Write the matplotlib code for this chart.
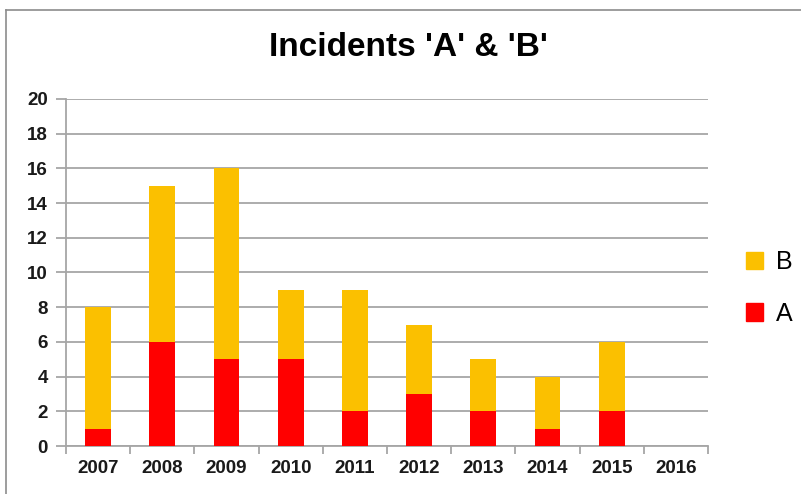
import numpy as np
import matplotlib.pyplot as plt
from matplotlib.lines import Line2D
from matplotlib.patches import Patch

years = ['2007', '2008', '2009', '2010', '2011', '2012', '2013', '2014', '2015', '2016']
incidents_a = [1, 6, 5, 5, 2, 3, 2, 1, 2, 0]
incidents_b = [7, 9, 11, 4, 7, 4, 3, 3, 4, 0]

col_a = '#FF0000'
col_b = '#FBC000'
grid_col = '#A6A6A6'

plt.rcParams['font.family'] = ['Liberation Sans', 'DejaVu Sans']

fig = plt.figure(figsize=(8.01, 4.94), dpi=100)
ax = fig.add_axes([66 / 801, 1 - 446 / 494, (708 - 66) / 801, (446 - 99) / 494])

x = np.arange(len(years))
ax.bar(x, incidents_a, width=0.4, color=col_a, label='A', zorder=3)
ax.bar(x, incidents_b, width=0.4, bottom=incidents_a, color=col_b, label='B', zorder=3)

ax.set_xlim(-0.5, len(years) - 0.5)
ax.set_ylim(0, 20)
ax.set_yticks(range(0, 21, 2))
ax.yaxis.grid(True, color=grid_col, linewidth=1.3, zorder=0)

ax.set_xticks(x)
ax.set_xticklabels(years, fontsize=13.5, fontweight='bold', color='#1a1a1a')
ax.tick_params(axis='x', length=0, pad=10)
ax.set_xticks(np.arange(-0.5, len(years), 1), minor=True)
ax.tick_params(axis='x', which='minor', length=6, width=1.3, color=grid_col)
ax.tick_params(axis='y', length=7, width=1.3, color=grid_col, pad=6,
               labelsize=13.5, labelcolor='#1a1a1a')
for lab in ax.get_yticklabels():
    lab.set_fontweight('bold')

for side in ['top', 'right']:
    ax.spines[side].set_visible(False)
for side in ['left', 'bottom']:
    ax.spines[side].set_color(grid_col)
    ax.spines[side].set_linewidth(1.3)

fig.text(408 / 801, 1 - 48 / 494, "Incidents 'A' & 'B'", ha='center', va='center',
         fontsize=24, fontweight='bold')

handles = [Patch(color=col_b, label='B'), Patch(color=col_a, label='A')]
fig.legend(handles=handles, loc='center left', bbox_to_anchor=(723 / 801, 1 - 288 / 494),
           frameon=False, fontsize=18, handlelength=0.7, handleheight=0.7,
           handletextpad=0.5, labelspacing=1.1)

# outer chart frame
fig.add_artist(Line2D([6 / 801, 1], [1 - 10 / 494, 1 - 10 / 494], color='#8C8C8C', linewidth=1.2))
fig.add_artist(Line2D([6 / 801, 6 / 801], [0, 1 - 10 / 494], color='#8C8C8C', linewidth=1.2))

fig.savefig('out.png', dpi=100)
